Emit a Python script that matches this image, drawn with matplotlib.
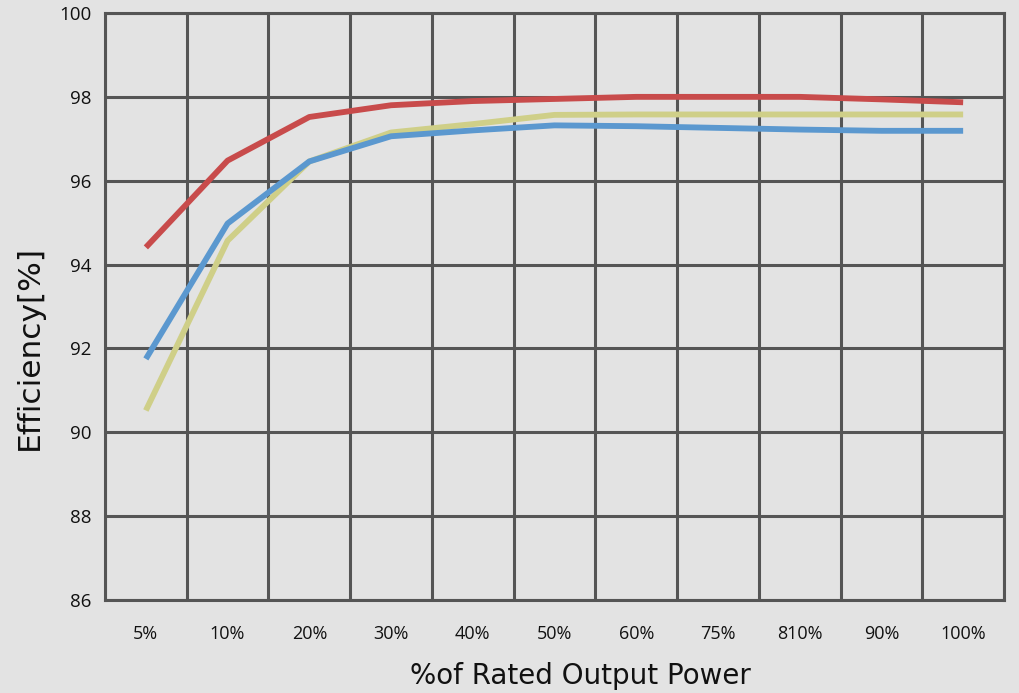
import matplotlib
matplotlib.use("Agg")
import matplotlib.pyplot as plt
import numpy as np

categories = ["5%", "10%", "20%", "30%", "40%", "50%", "60%", "75%", "810%", "90%", "100%"]
red_values = [94.41, 96.48, 97.52, 97.80, 97.90, 97.95, 98.00, 98.00, 98.00, 97.94, 97.87]
blue_values = [91.75, 94.98, 96.46, 97.06, 97.20, 97.32, 97.30, 97.26, 97.22, 97.19, 97.19]
yellow_values = [90.52, 94.57, 96.46, 97.15, 97.35, 97.57, 97.58, 97.58, 97.58, 97.58, 97.58]
y_ticks = [86, 88, 90, 92, 94, 96, 98, 100]

plt.rcParams['font.family'] = ['Open Sans', 'DejaVu Sans']

bg = "#e3e3e3"
grid_c = "#555555"

fig = plt.figure(figsize=(10.19, 6.93), dpi=100, facecolor=bg)
ax = fig.add_axes([105/1019, 1 - 600/693, (1004-105)/1019, (600-13)/693])
ax.set_facecolor(bg)

x = np.arange(len(categories))
ax.plot(x, yellow_values, color="#cfcf88", lw=4.2, solid_capstyle="butt", zorder=3)
ax.plot(x, blue_values, color="#5b98cf", lw=4.2, solid_capstyle="butt", zorder=4)
ax.plot(x, red_values, color="#c84b4b", lw=4.2, solid_capstyle="butt", zorder=5)

ax.set_xlim(-0.5, len(categories) - 0.5)
ax.set_ylim(86, 100)
ax.set_xticks(x)
ax.set_xticklabels(categories, fontsize=13, color="#111111")
ax.set_xticks(np.arange(-0.5, len(categories), 1.0), minor=True)
ax.set_yticks(y_ticks)
ax.set_yticklabels([str(v) for v in y_ticks], fontsize=13.5, color="#111111")

ax.tick_params(axis="x", which="major", length=0, pad=18)
ax.tick_params(axis="x", which="minor", length=0)
ax.tick_params(axis="y", length=0, pad=10)

ax.grid(True, axis="x", which="minor", color=grid_c, lw=2.2, zorder=1)
ax.grid(True, axis="y", which="major", color=grid_c, lw=2.2, zorder=1)
ax.grid(False, axis="x", which="major")
for s in ax.spines.values():
    s.set_color(grid_c)
    s.set_linewidth(2.2)

ax.set_xlabel("%of Rated Output Power", fontsize=20, color="#111111",
              family=['DejaVu Sans'])
ax.xaxis.set_label_coords((580 - 105) / 899, (600 - 676) / 587)
ax.xaxis.label.set_va("center")
ax.set_ylabel("Efficiency[%]", fontsize=22.5, color="#111111",
              family=['DejaVu Sans'])
ax.yaxis.set_label_coords((29 - 105) / 899, (600 - 347) / 587)
ax.yaxis.label.set_va("center")

fig.savefig("out.png", dpi=100, facecolor=bg)
